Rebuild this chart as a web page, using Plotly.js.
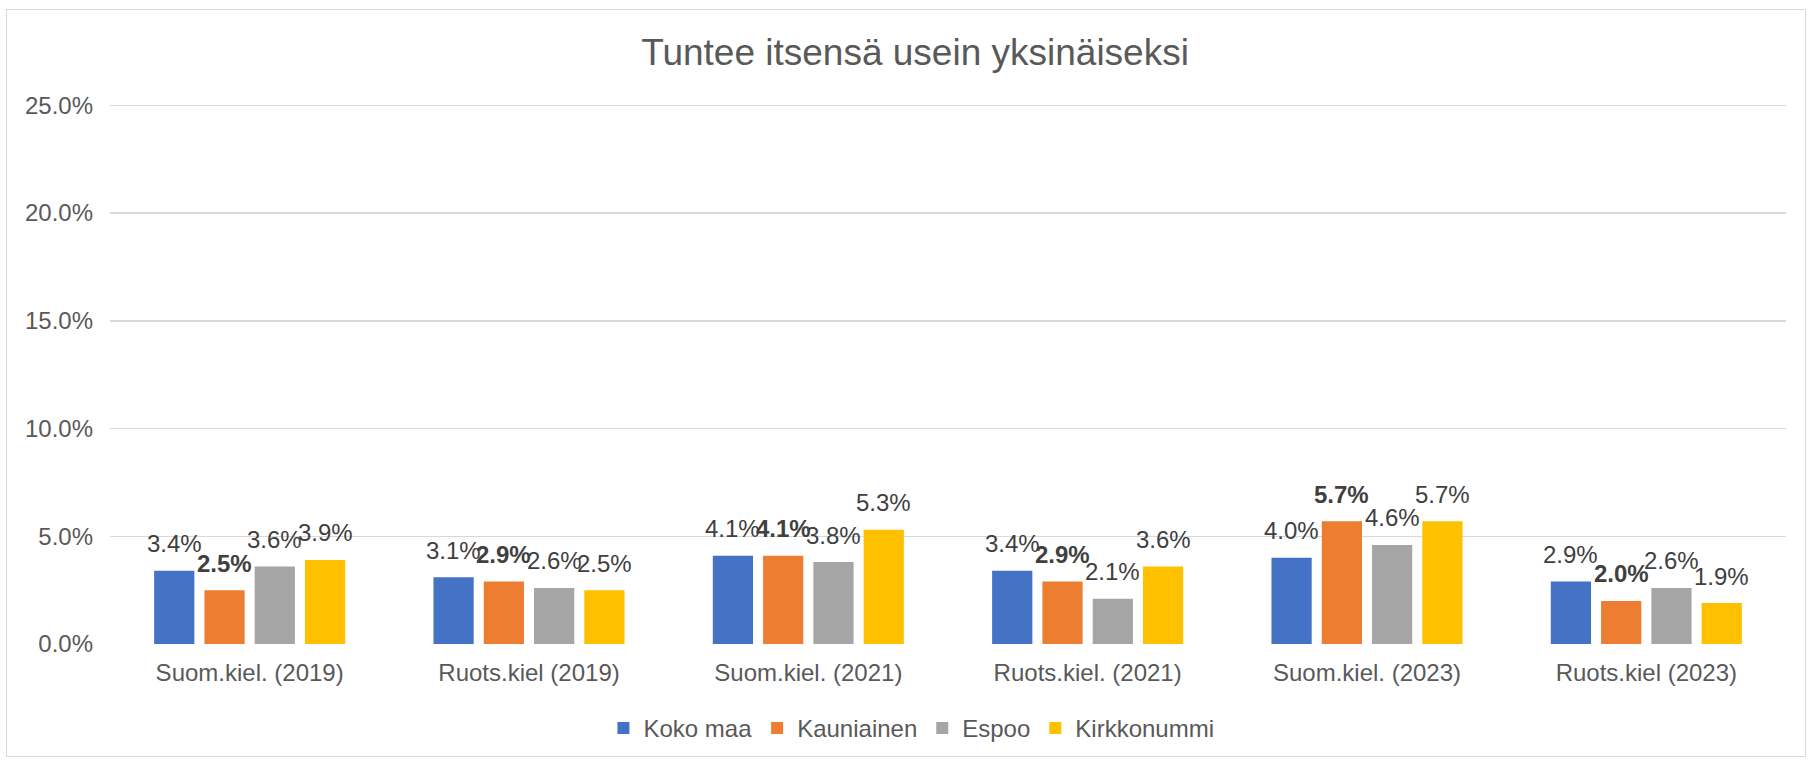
<!DOCTYPE html>
<html>
<head>
<meta charset="utf-8">
<script src="https://cdn.plot.ly/plotly-3.0.1.min.js"></script>
<style>
  html, body { margin: 0; padding: 0; background: #ffffff; }
  #wrap { position: relative; width: 1812px; height: 761px; }
  #frame { position: absolute; left: 6px; top: 9px; width: 1800px; height: 748px;
           border: 1.5px solid #d9d9d9; box-sizing: border-box; pointer-events: none; }
  #chart { position: absolute; left: 0; top: 0; width: 1812px; height: 761px; }
</style>
</head>
<body>
<div id="wrap">
  <div id="chart"></div>
  <div id="frame"></div>
</div>
<script>
// Share of respondents who often feel lonely (%)
const categories = [
  'Suom.kiel. (2019)',
  'Ruots.kiel (2019)',
  'Suom.kiel. (2021)',
  'Ruots.kiel. (2021)',
  'Suom.kiel. (2023)',
  'Ruots.kiel (2023)'
];
const seriesNames = ['Koko maa', 'Kauniainen', 'Espoo', 'Kirkkonummi'];
const kokoMaa     = [3.4, 3.1, 4.1, 3.4, 4.0, 2.9];
const kauniainen  = [2.5, 2.9, 4.1, 2.9, 5.7, 2.0];
const espoo       = [3.6, 2.6, 3.8, 2.1, 4.6, 2.6];
const kirkkonummi = [3.9, 2.5, 5.3, 3.6, 5.7, 1.9];
const yTicks = [0, 5, 10, 15, 20, 25];

const seriesValues = [kokoMaa, kauniainen, espoo, kirkkonummi];
const colors = ['#4472C4', '#ED7D31', '#A5A5A5', '#FFC000'];
const boldSeries = [false, true, false, false];

const FONT = 'Liberation Sans, Arial, sans-serif';
const BARGAP = 0.28;
const BARGROUPGAP = 0.2;

const traces = seriesValues.map((vals, k) => ({
  type: 'bar',
  name: seriesNames[k],
  x: categories,
  y: vals,
  marker: { color: colors[k] },
  hoverinfo: 'skip'
}));

// value labels above each bar, placed at the centre of its group slot
const slot = (1 - BARGAP) / seriesValues.length;
const annotations = [];
seriesValues.forEach((vals, k) => {
  vals.forEach((v, i) => {
    const label = v.toFixed(1) + '%';
    annotations.push({
      xref: 'x', yref: 'y',
      x: i + (k - (seriesValues.length - 1) / 2) * slot,
      y: v,
      text: boldSeries[k] ? '<b>' + label + '</b>' : label,
      showarrow: false,
      xanchor: 'center', yanchor: 'middle',
      yshift: 27,
      font: { family: FONT, size: 24, color: '#404040' }
    });
  });
});

const layout = {
  width: 1812,
  height: 761,
  margin: { l: 110, r: 26, t: 101, b: 117 },
  paper_bgcolor: '#ffffff',
  plot_bgcolor: '#ffffff',
  barmode: 'group',
  bargap: BARGAP,
  bargroupgap: BARGROUPGAP,
  font: { family: FONT, color: '#595959', size: 24 },
  title: {
    text: 'Tuntee itsensä usein yksinäiseksi',
    font: { family: FONT, size: 37, color: '#595959' },
    xref: 'container', x: 0.505, xanchor: 'center',
    yref: 'container', y: 0.932, yanchor: 'middle'
  },
  xaxis: {
    type: 'category',
    showgrid: false,
    zeroline: false,
    showline: false,
    ticks: '',
    ticklabelstandoff: 12,
    tickfont: { family: FONT, size: 24, color: '#595959' },
    fixedrange: true
  },
  yaxis: {
    range: [0, 25.2],
    tickvals: yTicks,
    ticktext: yTicks.map(t => t.toFixed(1) + '%'),
    showgrid: true,
    gridcolor: '#d9d9d9',
    gridwidth: 1.5,
    zeroline: false,
    showline: false,
    ticks: '',
    ticklabelstandoff: 16,
    tickfont: { family: FONT, size: 24, color: '#595959' },
    fixedrange: true
  },
  showlegend: true,
  legend: {
    orientation: 'h',
    xref: 'container', x: 0.503, xanchor: 'center',
    yref: 'container', y: 0.043, yanchor: 'middle',
    font: { family: FONT, size: 24, color: '#595959' },
    itemwidth: 30,
    traceorder: 'normal'
  },
  annotations: annotations
};

Plotly.newPlot('chart', traces, layout, { displayModeBar: false, staticPlot: true });
</script>
</body>
</html>
